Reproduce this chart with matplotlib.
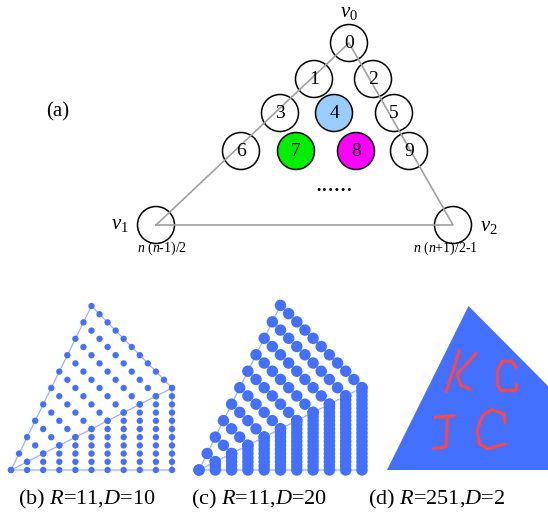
import numpy as np
import matplotlib
matplotlib.use('Agg')
import matplotlib.pyplot as plt
from matplotlib.patches import Circle, Polygon

plt.rcParams['font.family'] = ['Liberation Serif', 'DejaVu Serif']
plt.rcParams['mathtext.fontset'] = 'custom'
plt.rcParams['mathtext.rm'] = 'Liberation Serif'
plt.rcParams['mathtext.it'] = 'Liberation Serif:italic'

# ---- (a) node diagram (pixel layout)
node_lab = ['0', '1', '2', '3', '4', '5', '6', '7', '8', '9']
node_x = [349, 314, 373, 280, 334, 394, 241, 296, 356, 409]
node_y = [43, 79, 79, 113, 113, 113, 151, 151, 151, 151]
node_col = ['none', 'none', 'none', 'none', '#99ccff', 'none', 'none', '#00ee00', '#ff00ff', 'none']
corner_x = [349, 156, 453]      # v0, v1, v2
corner_y = [43, 225, 225]

# ---- (b)/(c) lattice counts
diag_len = [1, 2, 3, 4, 5, 6, 7, 8, 9, 10, 11]     # points per diagonal row
col_height = [1, 2, 3, 4, 5, 6, 7, 8, 9, 10, 11]   # points per column (D=10)
outline_i = [0, 10, 20, 20, 0]
outline_j = [0, 20, 10, 0, 0]

# ---- (d) shape and letters
tri_u = [0, 10, 20, 20]
tri_v = [0, 20, 10, 0]
strokes = [
    ([8.88, 8.06, 7.24], [14.55, 11.99, 9.55]),
    ([10.92, 9.78, 8.63, 9.04, 10.18], [14.23, 12.93, 11.71, 10.37, 9.84]),
    ([15.83, 15.30, 14.19, 13.58, 13.54, 14.07, 15.80, 15.91], [12.52, 13.25, 13.29, 12.20, 10.37, 9.67, 9.70, 10.45]),
    ([5.89, 8.22], [6.42, 6.59]),
    ([7.40, 7.32, 7.24, 5.69], [6.42, 4.47, 2.85, 2.60]),
    ([14.48, 14.36, 12.84, 11.70, 11.08, 11.33, 12.43, 14.48], [5.77, 6.83, 7.40, 6.59, 4.88, 3.17, 2.60, 3.17]),
]

captions = [r'(b) $R$=11,$D$=10', r'(c) $R$=11,$D$=20', r'(d) $R$=251,$D$=2']
cap_x = [87, 259, 437]

W, H = 548, 526
fig = plt.figure(figsize=(W / 100, H / 100), dpi=100)
ax = fig.add_axes([0, 0, 1, 1])
ax.set_xlim(0, W)
ax.set_ylim(H, 0)
ax.axis('off')

gray = '#a0a0a0'
ax.plot([corner_x[1], corner_x[0], corner_x[2], corner_x[1]],
        [corner_y[1], corner_y[0], corner_y[2], corner_y[1]], color=gray, lw=1.2, zorder=3)
for x, y, c, t in zip(node_x, node_y, node_col, node_lab):
    ax.add_patch(Circle((x, y), 18.5, facecolor=c, edgecolor='black', lw=1.1, zorder=2))
    ax.text(x, y, t, ha='center', va='center', fontsize=14, zorder=4)
for x, y in zip(corner_x[1:], corner_y[1:]):
    ax.add_patch(Circle((x, y), 18.5, facecolor='none', edgecolor='black', lw=1.1, zorder=2))

ax.text(349, 13, r'$v_0$', ha='center', va='center', fontsize=15)
ax.text(120, 224, r'$v_1$', ha='center', va='center', fontsize=15)
ax.text(489, 227, r'$v_2$', ha='center', va='center', fontsize=15)
ax.text(162, 248, r'$n$ ($n$-1)/2', ha='center', va='center', fontsize=10)
ax.text(445, 248, r'$n$ ($n$+1)/2-1', ha='center', va='center', fontsize=10)
ax.text(334, 185, '......', ha='center', va='center', fontsize=18)
ax.text(58, 112, '(a)', ha='center', va='center', fontsize=15)

for t, x in zip(captions, cap_x):
    ax.text(x, 499, t, ha='center', va='center', fontsize=16)

blue = '#4470ff'
light = '#9db2ff'


def lattice_axes(left_px, right_px, ox, sx, oy=470, sy=8.2, top=290, bottom=482):
    a = fig.add_axes([left_px / W, 1 - bottom / H, (right_px - left_px) / W, (bottom - top) / H])
    a.set_xlim((left_px - ox) / sx, (right_px - ox) / sx)
    a.set_ylim(-(bottom - oy) / sy, (oy - top) / sy)
    a.axis('off')
    a.patch.set_alpha(0)
    return a


def draw_lattice(a, col_step, size):
    pi, pj = [], []
    for k, n in enumerate(diag_len):
        for m in range(n):
            pi.append(k + m)
            pj.append(2 * k - m)
    for c, h in enumerate(col_height):
        for j in np.arange(0, h - 1 + 1e-9, col_step):
            pi.append(2 * c)
            pj.append(j)
    a.plot(outline_i, outline_j, color=light, lw=0.9, zorder=1)
    a.plot([0, 20], [0, 10], color=light, lw=0.9, zorder=1)
    a.scatter(pi, pj, s=size, color=blue, edgecolors='none', zorder=2, clip_on=False)


axb = lattice_axes(0, 185, 11, 8.05)
draw_lattice(axb, 1.0, 21)

axc = lattice_axes(185, 370, 199, 8.15, sy=8.23)
draw_lattice(axc, 0.5, 68)

axd = lattice_axes(370, 548, 387, 8.15)
axd.add_patch(Polygon(list(zip(tri_u, tri_v)), closed=True, facecolor=blue, edgecolor='none'))
for su, sv in strokes:
    axd.plot(su, sv, color='#ff4545', lw=2.2, solid_capstyle='round', solid_joinstyle='round')

fig.savefig('out.png', dpi=100)
